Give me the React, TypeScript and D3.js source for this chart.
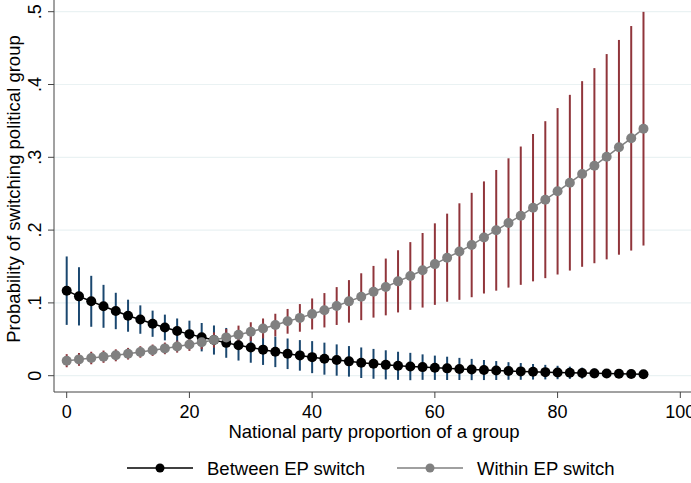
import React from "react";
import * as d3 from "d3";

// National party proportion of a group
const xs = [
  0, 2, 4, 6, 8, 10, 12, 14, 16, 18, 20, 22, 24, 26, 28, 30, 32, 34, 36, 38, 40, 42, 44, 46,
  48, 50, 52, 54, 56, 58, 60, 62, 64, 66, 68, 70, 72, 74, 76, 78, 80, 82, 84, 86, 88, 90, 92, 94,
];

// Between EP switch: predicted probability and CI half-width
const betweenEst = [
  0.1168, 0.109, 0.1022, 0.0953, 0.0889, 0.0824, 0.0771, 0.0714, 0.0662, 0.0614, 0.0571, 0.0529,
  0.049, 0.0451, 0.0418, 0.0388, 0.0358, 0.0328, 0.0301, 0.0279, 0.0255, 0.0234, 0.0215, 0.0197,
  0.0178, 0.0163, 0.0149, 0.0136, 0.0126, 0.0118, 0.0109, 0.0101, 0.0093, 0.0085, 0.0078, 0.0071,
  0.0065, 0.0059, 0.0054, 0.0049, 0.0044, 0.004, 0.0036, 0.0032, 0.0029, 0.0026, 0.0023, 0.0021,
];
const betweenCI = [
  0.047, 0.04, 0.035, 0.0295, 0.025, 0.022, 0.0195, 0.018, 0.0177, 0.0172, 0.0185, 0.0195,
  0.02, 0.0205, 0.021, 0.021, 0.021, 0.021, 0.021, 0.021, 0.022, 0.022, 0.0215, 0.021,
  0.021, 0.0205, 0.02, 0.0193, 0.0188, 0.0175, 0.0167, 0.016, 0.0152, 0.0146, 0.0138, 0.013,
  0.0121, 0.0115, 0.0107, 0.01, 0.0092, 0.0084, 0.0075, 0.0067, 0.006, 0.0054, 0.0048, 0.0043,
];

// Within EP switch
const withinEst = [
  0.0206, 0.0224, 0.0243, 0.0261, 0.028, 0.0302, 0.0326, 0.035, 0.0375, 0.04, 0.0428, 0.0459,
  0.049, 0.0526, 0.0563, 0.0604, 0.0649, 0.0696, 0.0747, 0.0794, 0.0848, 0.0899, 0.0957, 0.1021,
  0.1085, 0.1153, 0.1219, 0.1296, 0.137, 0.1448, 0.1533, 0.1621, 0.1705, 0.1795, 0.1899, 0.1997,
  0.2098, 0.2198, 0.2308, 0.2418, 0.2533, 0.2651, 0.2771, 0.2885, 0.3008, 0.3137, 0.3261, 0.3393,
];
const withinCI = [
  0.009, 0.0088, 0.0086, 0.0084, 0.0082, 0.008, 0.0079, 0.0078, 0.008, 0.0083, 0.0087, 0.0095,
  0.0105, 0.0115, 0.0125, 0.013, 0.0137, 0.0155, 0.017, 0.019, 0.0213, 0.0236, 0.026, 0.0292,
  0.0322, 0.0355, 0.039, 0.0427, 0.0465, 0.0512, 0.056, 0.0605, 0.0663, 0.0717, 0.077, 0.0829,
  0.0888, 0.095, 0.1012, 0.1078, 0.1143, 0.1207, 0.1275, 0.134, 0.141, 0.1475, 0.1542, 0.1605,
];

const xTicks = [0, 20, 40, 60, 80, 100];
const yTicks = [0, 0.1, 0.2, 0.3, 0.4, 0.5];
const yTickLabels = ["0", ".1", ".2", ".3", ".4", ".5"];

const series = [
  { name: "Between EP switch", est: betweenEst, ci: betweenCI, color: "#000000", ciColor: "#1a476f" },
  { name: "Within EP switch", est: withinEst, ci: withinCI, color: "#808080", ciColor: "#90353b" },
];

const W = 691;
const H = 483;
const axisX = 54;
const axisY = 392;
const font = "'Liberation Sans', Arial, Helvetica, sans-serif";

export default function App() {
  const x = d3.scaleLinear().domain([0, 100]).range([66.7, 680.3]);
  const y = d3.scaleLinear().domain([0, 0.5]).range([375.7, 11.7]);

  const line = d3
    .line<number>()
    .x((_, i) => x(xs[i]))
    .y((d) => y(d));

  return (
    <svg
      width={W}
      height={H}
      style={{ position: "absolute", left: 0, top: 0, background: "#fff" }}
      fontFamily={font}
    >
      {/* grid */}
      {yTicks.map((t) => (
        <line key={"g" + t} x1={axisX} x2={W} y1={y(t)} y2={y(t)} stroke="#eaf2f3" strokeWidth={1.2} />
      ))}

      {/* confidence intervals */}
      {series.map((s) =>
        s.est.map((e, i) => (
          <line
            key={s.name + "ci" + i}
            x1={x(xs[i])}
            x2={x(xs[i])}
            y1={y(e - s.ci[i])}
            y2={y(e + s.ci[i])}
            stroke={s.ciColor}
            strokeWidth={2}
          />
        ))
      )}

      {/* lines + markers */}
      {series.map((s) => (
        <g key={s.name}>
          <path d={line(s.est) || ""} fill="none" stroke={s.color} strokeWidth={1.5} />
          {s.est.map((e, i) => (
            <circle key={i} cx={x(xs[i])} cy={y(e)} r={5} fill={s.color} />
          ))}
        </g>
      ))}

      {/* axes */}
      <line x1={axisX} x2={axisX} y1={0} y2={axisY} stroke="#444" strokeWidth={1} />
      <line x1={axisX} x2={W} y1={axisY} y2={axisY} stroke="#444" strokeWidth={1} />
      {yTicks.map((t, i) => (
        <g key={"yt" + t}>
          <line x1={axisX - 6} x2={axisX} y1={y(t)} y2={y(t)} stroke="#444" />
          <text
            transform={`translate(41,${y(t)}) rotate(-90)`}
            textAnchor="middle"
            fontSize={18}
            fill="#000"
          >
            {yTickLabels[i]}
          </text>
        </g>
      ))}
      {xTicks.map((t) => (
        <g key={"xt" + t}>
          <line x1={x(t)} x2={x(t)} y1={axisY} y2={axisY + 6} stroke="#444" />
          <text x={x(t)} y={418} textAnchor="middle" fontSize={18} fill="#000">
            {t}
          </text>
        </g>
      ))}

      {/* axis titles */}
      <text x={374} y={438} textAnchor="middle" fontSize={18.5} fill="#000">
        National party proportion of a group
      </text>
      <text
        transform="translate(20,189) rotate(-90)"
        textAnchor="middle"
        fontSize={18.5}
        fill="#000"
      >
        Probability of switching political group
      </text>

      {/* legend */}
      {series.map((s, i) => {
        const lx = i === 0 ? 127 : 397;
        return (
          <g key={"lg" + s.name}>
            <line x1={lx} x2={lx + 66} y1={468} y2={468} stroke={s.color} strokeWidth={1.5} />
            <circle cx={lx + 33} cy={468} r={4.5} fill={s.color} />
            <text x={lx + 80} y={474.5} fontSize={18.5} fill="#000">
              {s.name}
            </text>
          </g>
        );
      })}
    </svg>
  );
}
